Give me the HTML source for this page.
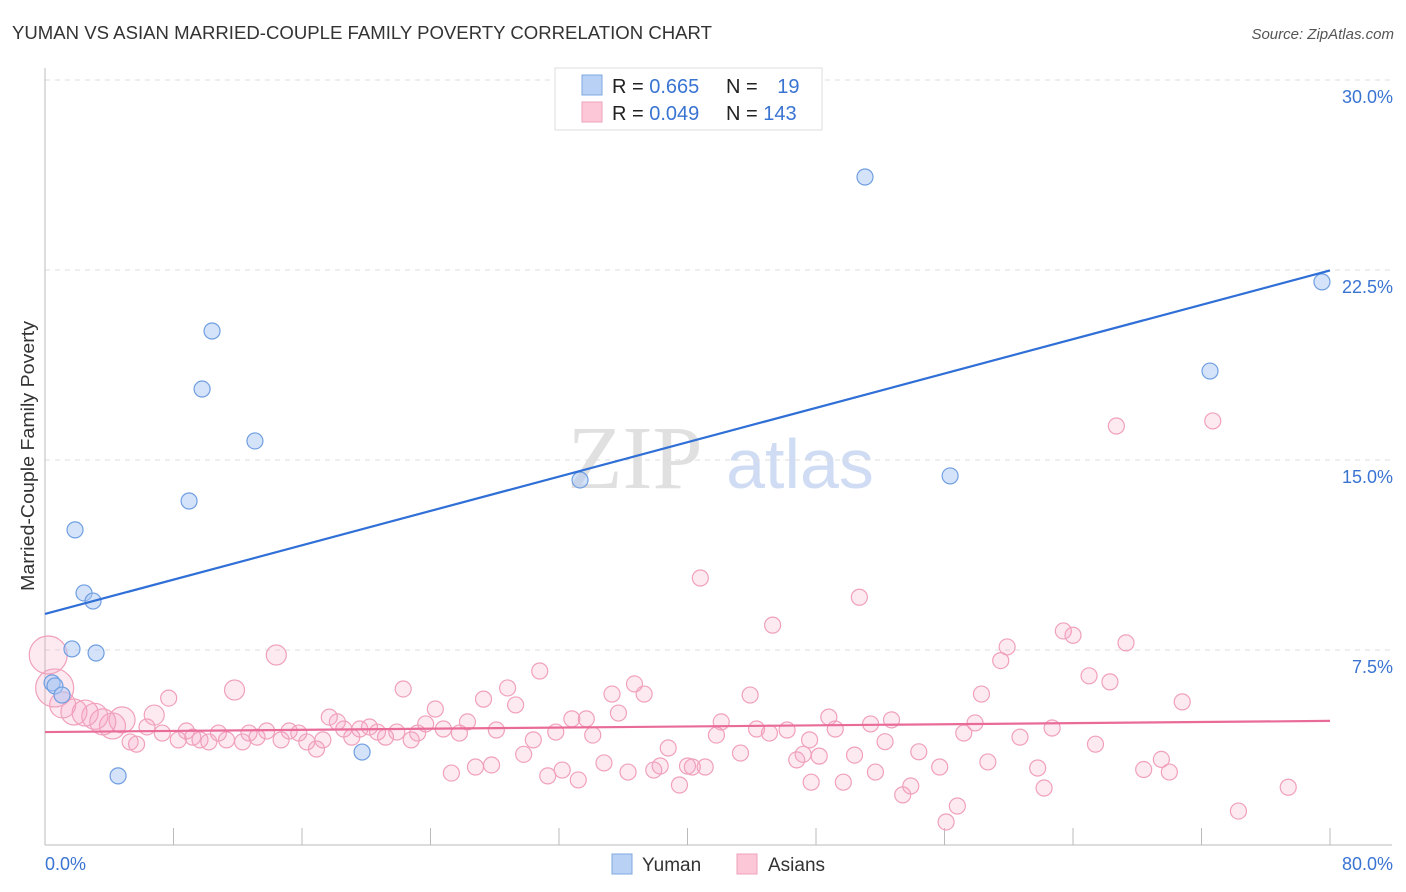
<!DOCTYPE html>
<html><head><meta charset="utf-8"><style>
body{margin:0;background:#fff;font-family:"Liberation Sans",sans-serif;}
svg{display:block}
</style></head><body>
<svg id="chart" width="1406" height="892">
<text x="12" y="39" font-size="18" fill="#333" textLength="700" lengthAdjust="spacingAndGlyphs">YUMAN VS ASIAN MARRIED-COUPLE FAMILY POVERTY CORRELATION CHART</text>
<text x="1394" y="39" font-size="15" fill="#555" text-anchor="end" font-style="italic">Source: ZipAtlas.com</text>
<g><text x="635" y="488" font-size="90" font-family="Liberation Serif,serif" fill="#e0e0e0" text-anchor="middle">ZIP</text><text x="800" y="488" font-size="70" fill="#cfdcf3" text-anchor="middle">atlas</text></g>
<g id="grid"></g><g id="axes"></g><g id="marks"></g>
<text transform="translate(34,456) rotate(-90)" font-size="18" fill="#333" text-anchor="middle" textLength="270" lengthAdjust="spacingAndGlyphs">Married-Couple Family Poverty</text>
<g>
<rect x="555" y="68" width="267" height="62" fill="#fff" stroke="#ddd"/>
<rect x="582" y="75" width="20" height="20" fill="#b8d1f5" stroke="#7fa8e0"/>
<rect x="582" y="102" width="20" height="20" fill="#fcc8d7" stroke="#f0a0bb"/>
<text x="612" y="93" font-size="20" fill="#222">R = <tspan fill="#3a74d2">0.665</tspan></text>
<text x="726" y="93" font-size="20" fill="#222">N = <tspan fill="#3a74d2" dx="14">19</tspan></text>
<text x="612" y="120" font-size="20" fill="#222">R = <tspan fill="#3a74d2">0.049</tspan></text>
<text x="726" y="120" font-size="20" fill="#222">N = <tspan fill="#3a74d2">143</tspan></text>
</g>
<g>
<rect x="612" y="854" width="20" height="20" fill="#b8d1f5" stroke="#7fa8e0"/>
<text x="642" y="871" font-size="19" fill="#333">Yuman</text>
<rect x="737" y="854" width="20" height="20" fill="#fcc8d7" stroke="#f0a0bb"/>
<text x="768" y="871" font-size="19" fill="#333">Asians</text>
</g>
</svg>
<script>
const yTicks=[7.5,15,22.5,30];
const yTickLabels=["7.5%","15.0%","22.5%","30.0%"];
const xTicks=[0,8,16,24,32,40,48,56,64,72,80];
const yumanX=[0.44,0.62,1.06,1.68,1.87,2.43,2.99,3.18,4.55,8.97,9.78,10.4,13.07,19.74,33.31,51.05,56.35,72.53,79.5];
const yumanY=[6.32,6.2,5.84,7.66,12.36,9.87,9.55,7.5,2.65,13.5,17.92,20.21,15.87,3.59,14.33,26.29,14.49,18.63,22.15];
const asianX=[40.8,45.3,50.7,66.7,72.7,74.3,77.4,56.1,56.8,59.9,59.5,63.4,64,67.3,65,66.3,70.8,68.4,69.5,70,65.4,61.8,62.2,62.7,60.7,58.7,58.3,57.9,57.2,55.7,54.4,53.9,53.4,51.7,52.3,52.7,51.4,50.4,49.7,49.2,48.8,48.2,47.7,47.2,46.8,47.6,46.2,45.1,44.3,43.9,43.3,42.1,41.8,41.1,40.3,40,39.5,38.8,38.3,37.9,37.3,36.7,36.3,35.7,35.3,34.8,34.1,33.7,33.2,32.8,32.2,31.8,31.3,30.8,30.4,29.8,29.3,28.8,28.1,27.8,27.3,26.8,26.3,25.8,25.3,24.8,24.3,23.7,23.2,22.8,22.3,21.9,21.2,20.7,20.2,19.6,19.1,18.6,18.2,17.7,17.3,16.9,16.3,15.8,15.2,14.7,14.4,13.8,13.2,12.7,12.3,11.8,11.3,10.8,10.2,9.65,9.2,8.8,8.3,7.7,7.3,6.8,6.35,5.7,5.3,4.8,4.2,3.6,3.1,2.5,1.8,1.1,0.6,0.2];
const asianY=[10.46,8.6,9.7,16.46,16.66,1.26,2.2,0.83,1.46,7.74,7.2,8.37,8.2,7.9,6.6,6.36,5.57,2.9,3.3,2.8,3.9,2.96,2.17,4.54,4.18,3.2,5.88,4.74,4.34,3.0,3.6,2.25,1.9,2.8,4.0,4.86,4.7,3.47,2.4,4.5,4.97,3.43,2.4,3.5,3.28,4.07,4.46,4.34,4.5,5.84,3.55,4.78,4.26,3.0,3.0,3.04,2.29,3.75,3.04,2.88,5.88,6.28,2.8,5.13,5.88,3.16,4.26,4.9,2.49,4.9,2.88,4.38,2.65,6.79,4.07,3.5,5.45,6.12,4.46,3.08,5.68,3.0,4.78,4.34,2.76,4.5,5.29,4.7,4.34,4.07,6.08,4.38,4.18,4.38,4.58,4.5,4.18,4.5,4.78,4.97,4.07,3.71,3.99,4.34,4.42,4.07,7.42,4.42,4.18,4.34,3.99,6.04,4.07,4.34,3.99,4.07,4.18,4.42,4.07,5.72,4.34,5.05,4.58,3.9,3.99,4.86,4.62,4.78,5.0,5.13,5.17,5.45,6.12,7.42];
const yumanLine=[9.04,22.6];
const asianLine=[4.38,4.82];
const X=v=>45+v/80*1285, Y=v=>843-v*190/7.5;
const NS="http://www.w3.org/2000/svg";
function mk(p,t,a){const e=document.createElementNS(NS,t);for(const k in a)e.setAttribute(k,a[k]);p.appendChild(e);return e;}
const grid=document.getElementById('grid'),axes=document.getElementById('axes'),marks=document.getElementById('marks');
yTicks.forEach((t,i)=>{const l=mk(grid,'line',{x1:45,x2:1392,y1:Y(t)-3,y2:Y(t)-3,stroke:'#ddd','stroke-dasharray':'5,5'});


const tx=mk(axes,'text',{x:1393,y:Y(t)+20,'font-size':18,fill:'#3a74d2','text-anchor':'end'});tx.textContent=yTickLabels[i];

});
let a=mk(axes,'line',{x1:45,x2:45,y1:68,y2:845,stroke:'#bbb'});
a=mk(axes,'line',{x1:45,x2:1392,y1:845,y2:845,stroke:'#bbb'});
xTicks.forEach(t=>{const l=mk(axes,'line',{x1:X(t),x2:X(t),y1:828,y2:845,stroke:'#bbb'});

});
let t0=mk(axes,'text',{x:45,y:870,'font-size':18,fill:'#3a74d2'});t0.textContent='0.0%';
let t1=mk(axes,'text',{x:1393,y:870,'font-size':18,fill:'#3a74d2','text-anchor':'end'});t1.textContent='80.0%';
asianX.forEach((x,i)=>{const big=x<5||(x>14&&x<14.6)||(x>11.7&&x<11.9)||(x>6.7&&x<6.9);
const r=x<0.3||(x>0.5&&x<0.7)?19:(x<5?13:(big?10:8));
const c=mk(marks,'circle',{cx:X(x),cy:Y(asianY[i]),r:r,fill:'rgba(246,160,190,0.22)',stroke:'#f0a0bb','stroke-width':1.2});

});
yumanX.forEach((x,i)=>{const c=mk(marks,'circle',{cx:X(x),cy:Y(yumanY[i]),r:8,fill:'rgba(170,200,245,0.5)',stroke:'#6f9ee0','stroke-width':1.2});

});
let l1=mk(marks,'line',{x1:X(0),x2:X(80),y1:Y(yumanLine[0]),y2:Y(yumanLine[1]),stroke:'#2f6fd6','stroke-width':2.2});

let l2=mk(marks,'line',{x1:X(0),x2:X(80),y1:Y(asianLine[0]),y2:Y(asianLine[1]),stroke:'#e96b98','stroke-width':2.2});

</script>
</body></html>
